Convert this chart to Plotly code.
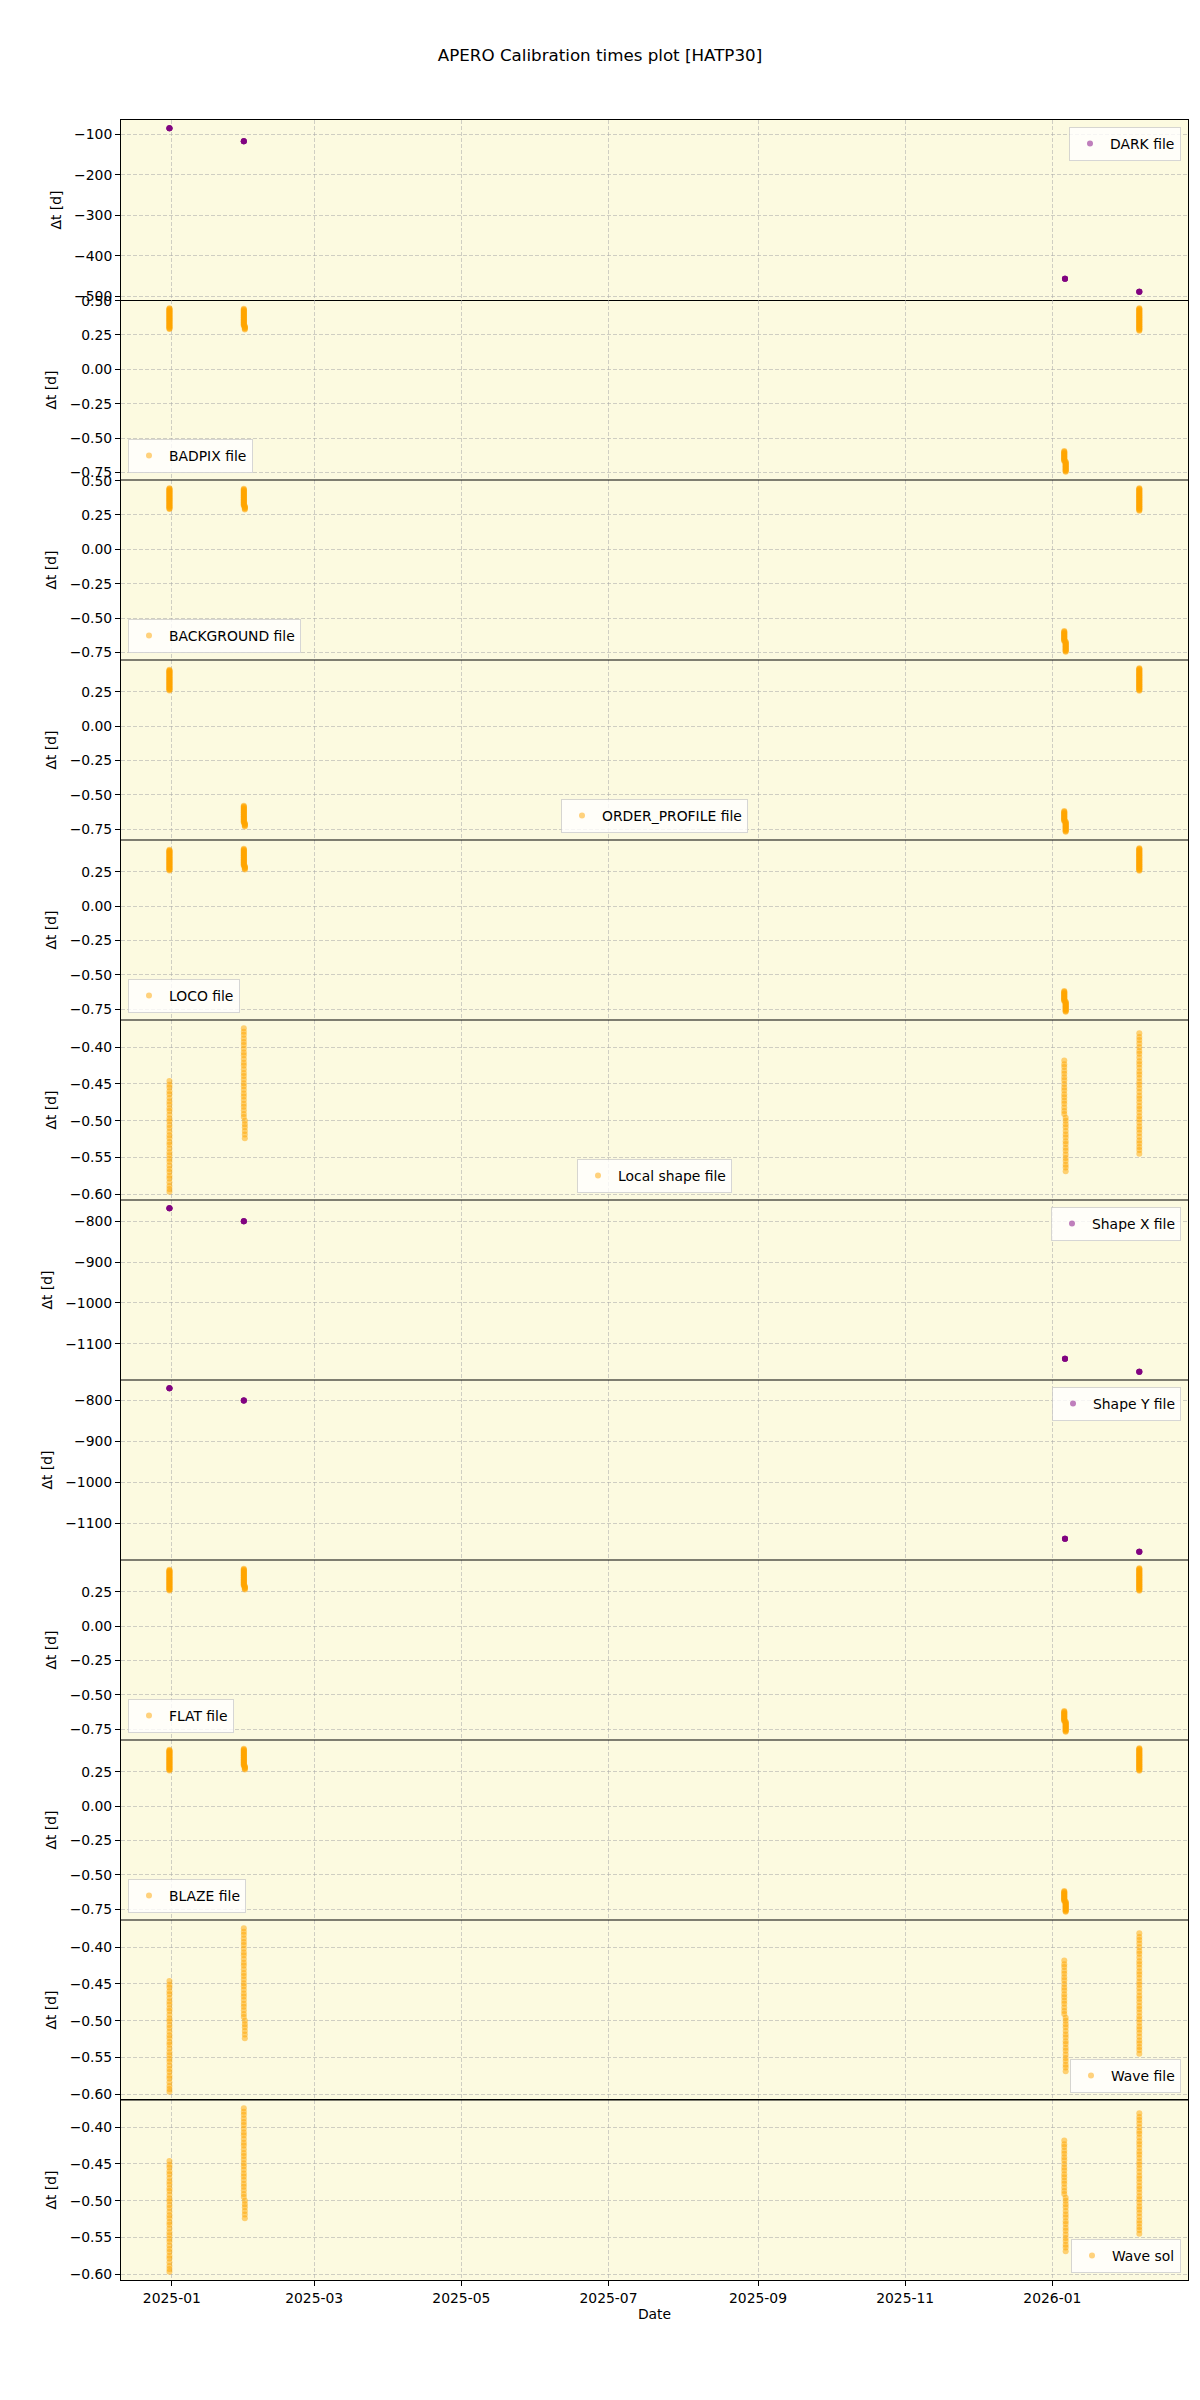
import plotly.graph_objects as go
from plotly.subplots import make_subplots

TITLE = "APERO Calibration times plot [HATP30]"
Y_TITLE = "Δt [d]"
X_TITLE = "Date"

panel_labels = ["DARK file", "BADPIX file", "BACKGROUND file", "ORDER_PROFILE file",
                "LOCO file", "Local shape file", "Shape X file", "Shape Y file",
                "FLAT file", "BLAZE file", "Wave file", "Wave sol"]
panel_colors = ["purple", "orange", "orange", "orange", "orange", "orange",
                "purple", "purple", "orange", "orange", "orange", "orange"]
legend_locs = ["upper right", "lower left", "lower left", "lower center",
               "lower left", "lower center", "upper right", "upper right",
               "lower left", "lower left", "lower right", "lower right"]
y_dticks = [100, 0.25, 0.25, 0.25, 0.25, 0.05, 100, 100, 0.25, 0.25, 0.05, 0.05]

# observation nights (x) : (date, number of points) for each of the 4 clusters
nights_dense = [
    [("2024-12-31 00:00", 34)],
    [("2025-01-30 20:00", 27), ("2025-01-31 06:00", 6)],
    [("2026-01-05 23:00", 17), ("2026-01-06 13:00", 17)],
    [("2026-02-06 01:30", 36)],
]
nights_sparse = [
    [("2024-12-31 00:00", 6)],
    [("2025-01-30 20:00", 6)],
    [("2026-01-06 06:00", 6)],
    [("2026-02-06 01:30", 6)],
]

# ---- Δt values (days) ----
dark_c1 = [-85.22, -85.25, -85.28, -85.31, -85.34, -85.37]
dark_c2 = [-117.12, -117.15, -117.18, -117.21, -117.24, -117.27]
dark_c3 = [-456.22, -456.25, -456.28, -456.31, -456.34, -456.37]
dark_c4 = [-488.12, -488.15, -488.18, -488.21, -488.24, -488.27]

shapex_c1 = [-768.22, -768.25, -768.28, -768.31, -768.34, -768.37]
shapex_c2 = [-799.92, -799.95, -799.98, -800.01, -800.04, -800.07]
shapex_c3 = [-1136.52, -1136.55, -1136.58, -1136.61, -1136.64, -1136.67]
shapex_c4 = [-1168.22, -1168.25, -1168.28, -1168.31, -1168.34, -1168.37]

shapey_c1 = [-770.82, -770.85, -770.88, -770.91, -770.94, -770.97]
shapey_c2 = [-800.62, -800.65, -800.68, -800.71, -800.74, -800.77]
shapey_c3 = [-1136.92, -1136.95, -1136.98, -1137.01, -1137.04, -1137.07]
shapey_c4 = [-1168.82, -1168.85, -1168.88, -1168.91, -1168.94, -1168.97]

# BADPIX / BACKGROUND
grpB_c1 = [0.445, 0.440, 0.436, 0.431, 0.427, 0.422, 0.417, 0.413, 0.408, 0.404, 0.399, 0.394,
           0.390, 0.385, 0.381, 0.376, 0.371, 0.367, 0.362, 0.358, 0.353, 0.348, 0.344, 0.339,
           0.335, 0.330, 0.325, 0.321, 0.316, 0.312, 0.307, 0.302, 0.298, 0.294]
grpB_c2 = [0.440, 0.435, 0.431, 0.426, 0.421, 0.417, 0.412, 0.407, 0.403, 0.398, 0.393, 0.389,
           0.384, 0.379, 0.375, 0.370, 0.365, 0.361, 0.356, 0.351, 0.347, 0.342, 0.337, 0.333,
           0.328, 0.323, 0.319, 0.314, 0.309, 0.305, 0.300, 0.295, 0.290]
grpB_c3 = [-0.595, -0.600, -0.604, -0.609, -0.613, -0.618, -0.622, -0.627, -0.632, -0.636, -0.641,
           -0.645, -0.650, -0.654, -0.659, -0.664, -0.668, -0.673, -0.677, -0.682, -0.686, -0.691,
           -0.696, -0.700, -0.705, -0.709, -0.714, -0.718, -0.723, -0.728, -0.732, -0.737, -0.741,
           -0.746]
grpB_c4 = [0.445, 0.440, 0.436, 0.431, 0.426, 0.421, 0.417, 0.412, 0.407, 0.403, 0.398, 0.393,
           0.389, 0.384, 0.379, 0.375, 0.370, 0.365, 0.360, 0.356, 0.351, 0.346, 0.342, 0.337,
           0.332, 0.328, 0.323, 0.318, 0.314, 0.309, 0.304, 0.299, 0.295, 0.290, 0.286, 0.281]

# ORDER_PROFILE / LOCO / FLAT / BLAZE
grpC_c1 = [0.412, 0.407, 0.403, 0.398, 0.394, 0.389, 0.384, 0.380, 0.375, 0.371, 0.366, 0.361,
           0.357, 0.352, 0.348, 0.343, 0.338, 0.334, 0.329, 0.325, 0.320, 0.315, 0.311, 0.306,
           0.302, 0.297, 0.292, 0.288, 0.283, 0.279, 0.274, 0.269, 0.265, 0.261]
grpC_c2 = [0.418, 0.413, 0.409, 0.404, 0.399, 0.395, 0.390, 0.385, 0.381, 0.376, 0.371, 0.367,
           0.362, 0.357, 0.353, 0.348, 0.343, 0.339, 0.334, 0.329, 0.325, 0.320, 0.315, 0.311,
           0.306, 0.301, 0.297, 0.292, 0.287, 0.283, 0.278, 0.273, 0.268]
grpC_c3 = [-0.618, -0.623, -0.627, -0.632, -0.636, -0.641, -0.645, -0.650, -0.655, -0.659, -0.664,
           -0.668, -0.673, -0.677, -0.682, -0.687, -0.691, -0.696, -0.700, -0.705, -0.709, -0.714,
           -0.719, -0.723, -0.728, -0.732, -0.737, -0.741, -0.746, -0.751, -0.755, -0.760, -0.764,
           -0.769]
grpC_c4 = [0.423, 0.418, 0.414, 0.409, 0.404, 0.399, 0.395, 0.390, 0.385, 0.381, 0.376, 0.371,
           0.367, 0.362, 0.357, 0.353, 0.348, 0.343, 0.338, 0.334, 0.329, 0.324, 0.320, 0.315,
           0.310, 0.306, 0.301, 0.296, 0.292, 0.287, 0.282, 0.277, 0.273, 0.268, 0.264, 0.259]
orderp_c2 = [-0.580, -0.585, -0.589, -0.594, -0.599, -0.603, -0.608, -0.613, -0.617, -0.622, -0.627,
             -0.631, -0.636, -0.641, -0.645, -0.650, -0.655, -0.659, -0.664, -0.669, -0.673, -0.678,
             -0.683, -0.687, -0.692, -0.697, -0.701, -0.706, -0.711, -0.715, -0.720, -0.725, -0.730]

# Local shape / Wave file / Wave sol
grpA_c1 = [-0.446, -0.451, -0.455, -0.460, -0.464, -0.469, -0.474, -0.478, -0.483, -0.487, -0.492,
           -0.497, -0.501, -0.506, -0.510, -0.515, -0.520, -0.524, -0.529, -0.533, -0.538, -0.543,
           -0.547, -0.552, -0.556, -0.561, -0.566, -0.570, -0.575, -0.579, -0.584, -0.589, -0.593,
           -0.597]
grpA_c2 = [-0.374, -0.379, -0.383, -0.388, -0.393, -0.397, -0.402, -0.407, -0.411, -0.416, -0.421,
           -0.425, -0.430, -0.435, -0.439, -0.444, -0.449, -0.453, -0.458, -0.463, -0.467, -0.472,
           -0.477, -0.481, -0.486, -0.491, -0.495, -0.500, -0.505, -0.509, -0.514, -0.519, -0.524]
grpA_c3 = [-0.418, -0.423, -0.427, -0.432, -0.436, -0.441, -0.445, -0.450, -0.455, -0.459, -0.464,
           -0.468, -0.473, -0.477, -0.482, -0.487, -0.491, -0.496, -0.500, -0.505, -0.509, -0.514,
           -0.519, -0.523, -0.528, -0.532, -0.537, -0.541, -0.546, -0.551, -0.555, -0.560, -0.564,
           -0.569]
grpA_c4 = [-0.381, -0.386, -0.390, -0.395, -0.400, -0.405, -0.409, -0.414, -0.419, -0.423, -0.428,
           -0.433, -0.437, -0.442, -0.447, -0.451, -0.456, -0.461, -0.466, -0.470, -0.475, -0.480,
           -0.484, -0.489, -0.494, -0.498, -0.503, -0.508, -0.512, -0.517, -0.522, -0.527, -0.531,
           -0.536, -0.540, -0.545]

panel_values = [
    [dark_c1, dark_c2, dark_c3, dark_c4],
    [grpB_c1, grpB_c2, grpB_c3, grpB_c4],
    [grpB_c1, grpB_c2, grpB_c3, grpB_c4],
    [grpC_c1, orderp_c2, grpC_c3, grpC_c4],
    [grpC_c1, grpC_c2, grpC_c3, grpC_c4],
    [grpA_c1, grpA_c2, grpA_c3, grpA_c4],
    [shapex_c1, shapex_c2, shapex_c3, shapex_c4],
    [shapey_c1, shapey_c2, shapey_c3, shapey_c4],
    [grpC_c1, grpC_c2, grpC_c3, grpC_c4],
    [grpC_c1, grpC_c2, grpC_c3, grpC_c4],
    [grpA_c1, grpA_c2, grpA_c3, grpA_c4],
    [grpA_c1, grpA_c2, grpA_c3, grpA_c4],
]

X_RANGE = ["2024-12-10 22:00", "2026-02-26 06:00"]

FONT = "DejaVu Sans"
FS = 13.9
BG = "#FCFAE0"
GRID = "rgba(170,170,170,0.55)"

N = len(panel_labels)
fig = make_subplots(rows=N, cols=1, shared_xaxes=True, vertical_spacing=0)


def expand_x(nights):
    xs = []
    for d, n in nights:
        xs.extend([d] * n)
    return xs


for i in range(N):
    xs, ys = [], []
    nights = nights_sparse if panel_colors[i] == "purple" else nights_dense
    for c in range(4):
        xs.extend(expand_x(nights[c]))
        ys.extend(panel_values[i][c])
    fig.add_trace(go.Scatter(
        x=xs, y=ys, mode="markers", name=panel_labels[i],
        marker=dict(color=panel_colors[i], size=6, opacity=0.5, line=dict(width=0)),
        legend="legend" if i == 0 else f"legend{i+1}", showlegend=True,
    ), row=i + 1, col=1)

    lo, hi = min(ys), max(ys)
    pad = 0.05 * (hi - lo)
    fmt = ".2f" if y_dticks[i] < 1 else "d"
    fig.update_yaxes(
        range=[lo - pad, hi + pad], dtick=y_dticks[i], tick0=0, tickformat=fmt,
        title=dict(text=Y_TITLE, font=dict(size=FS, color="black"), standoff=9),
        showgrid=True, gridcolor=GRID, griddash="4px,2px", gridwidth=1,
        zeroline=False, showline=True, mirror=True, linecolor="black", linewidth=1,
        ticks="outside", ticklen=5, tickcolor="black", tickwidth=1,
        tickfont=dict(size=FS, color="black"),
        row=i + 1, col=1)
    edge = (i == 0 or i == N - 1)
    fig.update_xaxes(
        range=X_RANGE, type="date", dtick="M2", tick0="2025-01-01", tickformat="%Y-%m",
        showgrid=True, gridcolor=GRID, griddash="4px,2px", gridwidth=1,
        zeroline=False, showline=edge, mirror=edge, linecolor="black", linewidth=1,
        ticks="outside" if i == N - 1 else "", ticklen=5, tickcolor="black", tickwidth=1,
        tickfont=dict(size=FS, color="black"),
        row=i + 1, col=1)

fig.update_xaxes(title=dict(text=X_TITLE, font=dict(size=FS, color="black"), standoff=4),
                 row=N, col=1)

W, H = 1200, 2400
ML, MR, MT, MB = 121, 12, 120, 120
fig.update_layout(
    width=W, height=H,
    margin=dict(l=ML, r=MR, t=MT, b=MB),
    paper_bgcolor="white", plot_bgcolor=BG,
    font=dict(family=FONT, size=FS, color="black"),
    title=dict(text=TITLE, x=0.5, xref="container", xanchor="center",
               y=1 - 55 / H, yref="container", yanchor="middle",
               font=dict(size=16.7, color="black")),
)

# panel separator frame lines (shared spines between stacked panels)
for i in range(1, N - 1):
    d0 = fig.layout[f"yaxis{i+1}"].domain[0]
    fig.add_shape(type="line", xref="paper", yref="paper", x0=0, x1=1, y0=d0, y1=d0,
                  line=dict(color="black", width=1.2), layer="above")

pad_x = 7 / (W - ML - MR)
pad_y = 7 / (H - MT - MB)
for i in range(N):
    yaxis = fig.layout["yaxis" if i == 0 else f"yaxis{i+1}"]
    d0, d1 = yaxis.domain
    loc = legend_locs[i]
    if loc.startswith("upper"):
        ly, lya = d1 - pad_y, "top"
    else:
        ly, lya = d0 + pad_y, "bottom"
    if loc.endswith("right"):
        lx, lxa = 1 - pad_x, "right"
    elif loc.endswith("left"):
        lx, lxa = pad_x, "left"
    else:
        lx, lxa = 0.5, "center"
    leg = dict(x=lx, y=ly, xanchor=lxa, yanchor=lya, xref="paper", yref="paper",
               bgcolor="rgba(255,255,255,0.8)", bordercolor="rgba(204,204,204,0.8)",
               borderwidth=1, font=dict(size=FS, color="black", family=FONT))
    fig.update_layout(**{("legend" if i == 0 else f"legend{i+1}"): leg})

fig.write_html("out.html")
